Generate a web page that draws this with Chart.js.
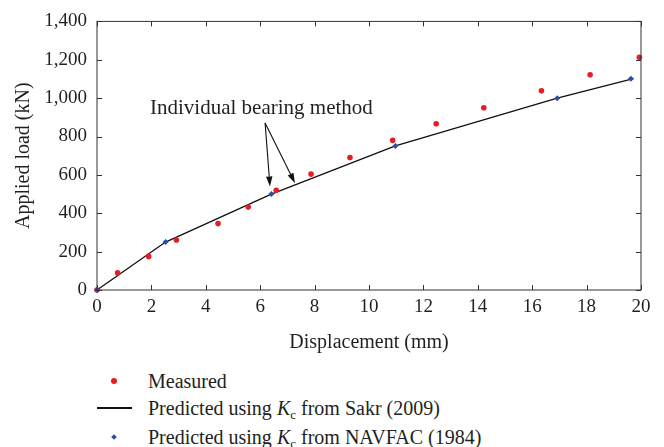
<!DOCTYPE html>
<html>
<head>
<meta charset="utf-8">
<script src="https://cdn.jsdelivr.net/npm/chart.js@4.4.1/dist/chart.umd.min.js"></script>
<style>
    body { margin: 0; background: #fff; width: 664px; height: 447px; overflow: hidden;
           font-family: "Liberation Serif", "Times New Roman", serif; color: #231f20; }
    #wrap { position: relative; width: 664px; height: 355px; }
    .row { position: absolute; left: 148px; font-size: 20px; line-height: 24px; white-space: nowrap; }
    .row sub { font-size: 13px; vertical-align: -4px; line-height: 0; }
    .mark { position: absolute; }
</style>
</head>
<body>
<div id="wrap"><canvas id="chart" width="664" height="355"></canvas></div>

<div class="mark" style="left:111px;top:378px;width:6px;height:6px;border-radius:50%;background:#e31e24"></div>
<div class="row" style="top:369px">Measured</div>
<div class="mark" style="left:97px;top:407px;width:35px;height:1.5px;background:#111"></div>
<div class="row" style="top:396px">Predicted using <i>K</i><sub>c</sub> from Sakr (2009)</div>
<div class="mark" style="left:111.5px;top:434.5px;width:4px;height:4px;background:#2b4fa2;transform:rotate(45deg)"></div>
<div class="row" style="top:425px">Predicted using <i>K</i><sub>c</sub> from NAVFAC (1984)</div>

<script>
// Measured load-displacement points
const measuredDisp = [0, 0.76, 1.9, 2.92, 4.45, 5.56, 6.59, 7.87, 9.30, 10.87, 12.47, 14.22, 16.34, 18.13, 19.94];
const measuredLoad = [0, 89, 175, 261, 346, 432, 520, 604, 691, 780, 866, 950, 1038, 1122, 1213];

// Predicted with Kc from Sakr (2009) - line
const sakrDisp = [0, 2.52, 6.41, 10.97, 16.92, 19.72];
const sakrLoad = [0, 250, 500, 751, 1000, 1102];

// Predicted with Kc from NAVFAC (1984) - markers
const navfacDisp = [0, 2.52, 6.41, 10.97, 16.92, 19.63];
const navfacLoad = [0, 250, 501, 751, 1000, 1101];

const annotationText = 'Individual bearing method';
const textPos = { x: 1.95, y: 947 };
const arrowStart = { x: 6.18, y: 871 };
const arrowTips = [{ x: 6.36, y: 540 }, { x: 7.28, y: 557 }];

const toPoints = (xs, ys) => xs.map((x, i) => ({ x: x, y: ys[i] }));
const serif = '"Liberation Serif", "Times New Roman", serif';
const inkColor = '#231f20';

// Box around plot area with inward ticks on all four sides
const framePlugin = {
    id: 'frame',
    afterDraw(chart) {
        const { ctx, chartArea: a, scales } = chart;
        ctx.save();
        ctx.strokeStyle = '#333';
        ctx.lineWidth = 1;
        ctx.strokeRect(a.left, a.top, a.right - a.left, a.bottom - a.top);
        const len = 5;
        ctx.beginPath();
        scales.x.ticks.forEach(t => {
            const px = Math.round(scales.x.getPixelForValue(t.value)) + 0.5;
            ctx.moveTo(px, a.bottom); ctx.lineTo(px, a.bottom - len);
            ctx.moveTo(px, a.top); ctx.lineTo(px, a.top + len);
        });
        scales.y.ticks.forEach(t => {
            const py = Math.round(scales.y.getPixelForValue(t.value)) + 0.5;
            ctx.moveTo(a.left, py); ctx.lineTo(a.left + len, py);
            ctx.moveTo(a.right, py); ctx.lineTo(a.right - len, py);
        });
        ctx.stroke();
        ctx.restore();
    }
};

function drawArrow(ctx, x1, y1, x2, y2) {
    const ang = Math.atan2(y2 - y1, x2 - x1);
    const head = 10, half = 3.2;
    const bx = x2 - head * Math.cos(ang), by = y2 - head * Math.sin(ang);
    ctx.beginPath();
    ctx.moveTo(x1, y1); ctx.lineTo(bx, by);
    ctx.stroke();
    ctx.beginPath();
    ctx.moveTo(x2, y2);
    ctx.lineTo(bx + half * Math.sin(ang), by - half * Math.cos(ang));
    ctx.lineTo(bx - half * Math.sin(ang), by + half * Math.cos(ang));
    ctx.closePath();
    ctx.fill();
}

const annotationPlugin = {
    id: 'annotation',
    afterDatasetsDraw(chart) {
        const { ctx, scales } = chart;
        const sx = v => scales.x.getPixelForValue(v);
        const sy = v => scales.y.getPixelForValue(v);
        ctx.save();
        ctx.fillStyle = inkColor;
        ctx.strokeStyle = '#111';
        ctx.lineWidth = 1.1;
        ctx.font = '21px ' + serif;
        ctx.textBaseline = 'middle';
        ctx.textAlign = 'left';
        ctx.fillText(annotationText, sx(textPos.x), sy(textPos.y));
        ctx.fillStyle = '#111';
        arrowTips.forEach(t => drawArrow(ctx, sx(arrowStart.x), sy(arrowStart.y), sx(t.x), sy(t.y)));
        ctx.restore();
    }
};

const ctx = document.getElementById('chart').getContext('2d');
new Chart(ctx, {
    type: 'scatter',
    data: {
        datasets: [
            {
                label: 'Predicted using Kc from Sakr (2009)',
                data: toPoints(sakrDisp, sakrLoad),
                showLine: true,
                borderColor: '#111',
                borderWidth: 1.3,
                pointRadius: 0,
                fill: false,
                order: 3
            },
            {
                label: 'Measured',
                data: toPoints(measuredDisp, measuredLoad),
                backgroundColor: '#e31e24',
                borderWidth: 0,
                pointRadius: 2.8,
                clip: false,
                order: 2
            },
            {
                label: 'Predicted using Kc from NAVFAC (1984)',
                data: toPoints(navfacDisp, navfacLoad),
                backgroundColor: '#2b4fa2',
                borderWidth: 0,
                pointStyle: 'rectRot',
                pointRadius: 3,
                clip: false,
                order: 1
            }
        ]
    },
    options: {
        responsive: false,
        animation: false,
        layout: { padding: { left: 0, top: 18, right: 23, bottom: 0 } },
        scales: {
            x: {
                type: 'linear',
                min: 0,
                max: 20,
                afterFit: s => { s.height = 65; },
                grid: { drawOnChartArea: false, drawTicks: false },
                border: { display: false },
                ticks: { stepSize: 2, padding: 6, color: inkColor, font: { family: serif, size: 19 } },
                title: {
                    display: true,
                    text: 'Displacement (mm)',
                    color: inkColor,
                    padding: { top: 0, bottom: 0 },
                    font: { family: serif, size: 20 }
                }
            },
            y: {
                min: 0,
                max: 1400,
                afterFit: s => { s.width = 97; },
                grid: { drawOnChartArea: false, drawTicks: false },
                border: { display: false },
                ticks: {
                    stepSize: 200,
                    padding: 10,
                    color: inkColor,
                    font: { family: serif, size: 19 },
                    callback: v => v.toLocaleString('en-US')
                },
                title: {
                    display: true,
                    text: 'Applied load (kN)',
                    color: inkColor,
                    padding: { top: 12, bottom: 0 },
                    font: { family: serif, size: 20 }
                }
            }
        },
        plugins: {
            legend: { display: false },
            tooltip: { enabled: false }
        }
    },
    plugins: [framePlugin, annotationPlugin]
});
</script>
</body>
</html>
